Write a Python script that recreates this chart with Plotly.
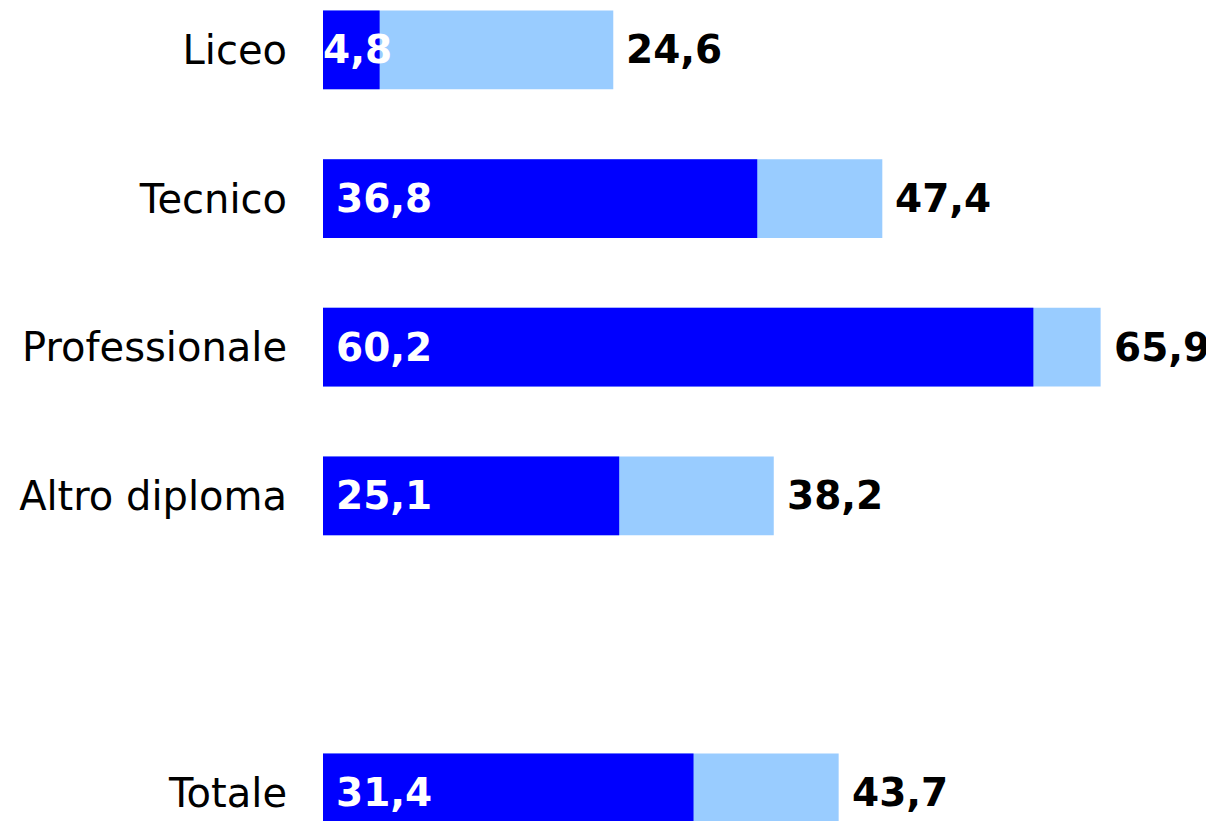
import plotly.graph_objects as go

categories = ["Liceo", "Tecnico", "Professionale", "Altro diploma", "", "Totale"]
positions = [0, 1, 2, 3, 4, 5]
dark_values = [4.8, 36.8, 60.2, 25.1, None, 31.4]
light_values = [24.6, 47.4, 65.9, 38.2, None, 43.7]

def fmt(v):
    return f"{v:.1f}".replace(".", ",")

fig = go.Figure()
fig.add_trace(go.Bar(
    y=positions, x=light_values, orientation="h",
    marker=dict(color="#99CCFF", line=dict(width=0)),
    width=0.53, hoverinfo="skip",
))
fig.add_trace(go.Bar(
    y=positions, x=dark_values, orientation="h",
    marker=dict(color="#0000FF", line=dict(width=0)),
    width=0.53, hoverinfo="skip",
))

font_family = "DejaVu Sans, Verdana, sans-serif"
for p, d, l in zip(positions, dark_values, light_values):
    if d is None:
        continue
    shift = 11 if d > 8 else -2
    fig.add_annotation(x=0, y=p, text=f"<b>{fmt(d)}</b>", showarrow=False,
                       xanchor="left", yanchor="middle", xshift=shift,
                       font=dict(family=font_family, size=39, color="white"))
    fig.add_annotation(x=l, y=p, text=f"<b>{fmt(l)}</b>", showarrow=False,
                       xanchor="left", yanchor="middle", xshift=11,
                       font=dict(family=font_family, size=39, color="black"))

fig.update_layout(
    barmode="overlay",
    width=1206, height=813,
    margin=dict(l=315, r=0, t=0, b=0),
    plot_bgcolor="white", paper_bgcolor="white",
    showlegend=False,
    font=dict(family=font_family, size=40, color="black"),
)
fig.update_xaxes(range=[0, 891 / 11.8], visible=False, showgrid=False, zeroline=False)
fig.update_yaxes(range=[-0.2826 + 813 / 148.6, -0.2826], tickvals=positions, ticktext=categories,
                 showgrid=False, zeroline=False, showline=False,
                 ticks="outside", ticklen=27, tickcolor="rgba(0,0,0,0)",
                 tickfont=dict(family=font_family, size=40, color="black"))

fig.write_html("out.html")
